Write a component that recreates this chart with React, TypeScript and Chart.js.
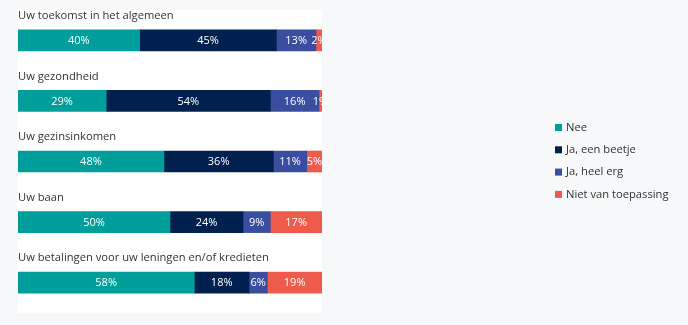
import React, { useEffect, useRef } from "react";
import { Chart, registerables } from "chart.js";

Chart.register(...registerables);

const categories = [
  "Uw toekomst in het algemeen",
  "Uw gezondheid",
  "Uw gezinsinkomen",
  "Uw baan",
  "Uw betalingen voor uw leningen en/of kredieten",
];
const seriesNames = ["Nee", "Ja, een beetje", "Ja, heel erg", "Niet van toepassing"];
const nee = [40, 29, 48, 50, 58];
const jaBeetje = [45, 54, 36, 24, 18];
const jaHeelErg = [13, 16, 11, 9, 6];
const nietVanToepassing = [2, 1, 5, 17, 19];
const colors = ["#009E9A", "#00214F", "#3A4D9F", "#EF5B4B"];

const FONT = "'Open Sans', sans-serif";

const panelPlugin = {
  id: "panel",
  beforeDraw(chart: any) {
    const { ctx, chartArea } = chart;
    ctx.save();
    ctx.fillStyle = "#ffffff";
    ctx.fillRect(chartArea.left, chartArea.top, chartArea.right - chartArea.left, chartArea.bottom - chartArea.top);
    ctx.restore();
  },
};

const labelsPlugin = {
  id: "barLabels",
  afterDatasetsDraw(chart: any) {
    const { ctx, chartArea } = chart;
    ctx.save();
    ctx.font = `11px ${FONT}`;
    ctx.textAlign = "center";
    ctx.textBaseline = "middle";
    ctx.fillStyle = "#ffffff";
    chart.data.datasets.forEach((ds: any, di: number) => {
      const meta = chart.getDatasetMeta(di);
      meta.data.forEach((bar: any, i: number) => {
        const a = Math.max(chartArea.left, Math.min(bar.base, bar.x));
        const b = Math.min(chartArea.right, Math.max(bar.base, bar.x));
        ctx.fillText(`${ds.data[i]}%`, (a + b) / 2, bar.y + 0.5);
      });
    });
    const yScale = chart.scales.y;
    ctx.textAlign = "left";
    ctx.fillStyle = "#333333";
    ctx.font = `11.2px ${FONT}`;
    categories.forEach((c, i) => {
      ctx.fillText(c, chartArea.left, yScale.getPixelForValue(i) - 24.5);
    });
    ctx.restore();
  },
};

const legendPlugin = {
  id: "customLegend",
  afterDraw(chart: any) {
    const { ctx } = chart;
    ctx.save();
    ctx.font = `11.2px ${FONT}`;
    ctx.textBaseline = "middle";
    ctx.textAlign = "left";
    const x = 555;
    const spacing = 22.3;
    const y0 = 127.5;
    chart.data.datasets.forEach((ds: any, i: number) => {
      const y = y0 + i * spacing;
      ctx.fillStyle = ds.backgroundColor;
      ctx.fillRect(x, y - 3.5, 7, 7);
      ctx.fillStyle = "#333333";
      ctx.fillText(ds.label, x + 11, y);
    });
    ctx.restore();
  },
};

export default function App() {
  const ref = useRef<HTMLCanvasElement>(null);
  useEffect(() => {
    const values = [nee, jaBeetje, jaHeelErg, nietVanToepassing];
    const chart = new Chart(ref.current!, {
      type: "bar",
      data: {
        labels: categories,
        datasets: seriesNames.map((n, i) => ({
          label: n,
          data: values[i],
          backgroundColor: colors[i],
          borderWidth: 0,
          barThickness: 21,
        })),
      },
      options: {
        indexAxis: "y",
        animation: false,
        responsive: true,
        maintainAspectRatio: false,
        layout: { padding: { left: 18, top: 10, right: 366, bottom: 12 } },
        plugins: { legend: { display: false }, tooltip: { enabled: false } },
        scales: {
          x: { stacked: true, min: 0, max: 100, display: false },
          y: { stacked: true, display: false },
        },
      },
      plugins: [panelPlugin, labelsPlugin, legendPlugin],
    });
    return () => chart.destroy();
  }, []);
  return (
    <div style={{ position: "fixed", left: 0, top: 0, width: 688, height: 325, background: "#F7F8FA" }}>
      <canvas ref={ref} />
    </div>
  );
}
